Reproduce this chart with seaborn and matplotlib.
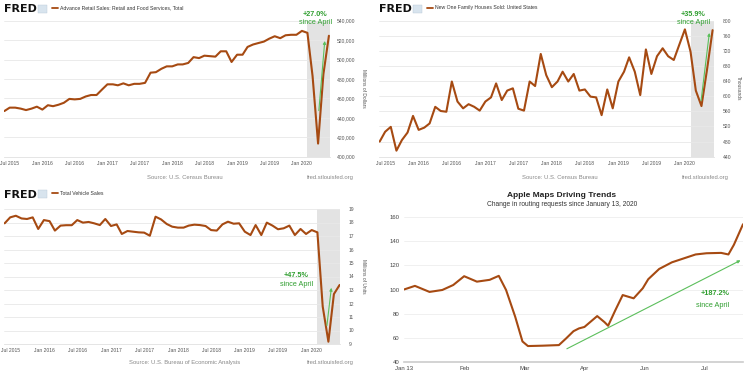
import numpy as np
import pandas as pd
import matplotlib
matplotlib.use('Agg')
import matplotlib.pyplot as plt
from matplotlib.patches import Rectangle
from matplotlib.lines import Line2D
import seaborn as sns

sns.set_theme(style='white')
plt.rcParams['font.family'] = ['Liberation Sans', 'DejaVu Sans']

# monthly series, Jun 2015 - Jun 2020
months = pd.date_range('2015-06-01', '2020-06-01', freq='MS')
retail = [447000, 450500, 450500, 449500, 448000, 449500, 451500, 448500, 453000, 452000,
          453500, 455500, 459500, 459000, 459500, 462000, 463500, 463500, 469000, 474500,
          474500, 473500, 475500, 473500, 475000, 475000, 476000, 486500, 487000, 490500,
          493000, 493000, 495000, 495000, 496500, 502500, 501500, 504000, 503500, 503000,
          508500, 508500, 497500, 505000, 505000, 513000, 515500, 517000, 518500, 521500,
          524000, 522000, 525000, 525500, 525500, 529500, 527500, 483000, 413500, 485000,
          524500]
homes = [480, 506, 519, 456, 484, 504, 548, 511, 517, 528,
         572, 561, 559, 639, 586, 568, 579, 572, 562, 586,
         597, 634, 590, 615, 621, 567, 562, 639, 627, 712,
         656, 624, 639, 665, 639, 659, 615, 618, 599, 597,
         550, 618, 568, 639, 665, 703, 665, 603, 724, 659,
         706, 727, 706, 696, 736, 777, 718, 615, 574, 669,
         775]
vehicles = [17.94, 18.38, 18.50, 18.30, 18.26, 18.38, 17.52, 18.18, 18.10, 17.40,
            17.77, 17.80, 17.80, 18.18, 17.99, 18.04, 17.94, 17.81, 18.26, 17.74,
            17.86, 17.15, 17.37, 17.32, 17.27, 17.25, 17.02, 18.43, 18.23, 17.89,
            17.69, 17.62, 17.62, 17.77, 17.84, 17.81, 17.74, 17.44, 17.40, 17.86,
            18.06, 17.91, 17.94, 17.32, 17.07, 17.81, 17.07, 17.99, 17.77, 17.50,
            17.57, 17.77, 17.07, 17.52, 17.15, 17.44, 17.27, 11.77, 9.17, 12.70,
            13.37]
tick_dates = pd.to_datetime(['2015-07-01', '2016-01-01', '2016-07-01', '2017-01-01', '2017-07-01',
                             '2018-01-01', '2018-07-01', '2019-01-01', '2019-07-01', '2020-01-01'])
tick_labels = ['Jul 2015', 'Jan 2016', 'Jul 2016', 'Jan 2017', 'Jul 2017',
               'Jan 2018', 'Jul 2018', 'Jan 2019', 'Jul 2019', 'Jan 2020']

# apple maps driving index (days since Jan 13)
apple_day = [0, 6, 14, 21, 27, 33, 40, 47, 52, 56, 61, 65, 68, 76, 85, 89, 93, 96, 99,
             106, 110, 112, 116, 120, 126, 131, 134, 140, 147, 153, 160, 166, 174, 178, 181, 186]
apple_val = [100, 103, 98, 99.6, 103.7, 111, 106.5, 108, 111.3, 99.6, 77.5, 57, 53.2, 53.5, 54,
             59.6, 65.5, 67.8, 69, 78, 73, 70, 83, 95.4, 92.7, 101, 108.5, 117, 122.5, 125.5,
             129, 130, 130.3, 129, 137, 154]
apple_ticks = [0, 33, 66, 99, 132, 165]
apple_labels = ['Jan 13', 'Feb', 'Mar', 'Apr', 'Jun', 'Jul']

BROWN = '#a64a12'
GREEN_LINE = '#5cbf5c'
GREEN_TXT = '#2f9e2f'
W, H = 750, 375

def box(x0, y0, x1, y1):
    return [x0 / W, 1 - y1 / H, (x1 - x0) / W, (y1 - y0) / H]

fig = plt.figure(figsize=(7.5, 3.75), dpi=100)


def fred_panel(rect, values, ylim, yticks, yfmt, ylabel, label_x, title, source, ox, oy, pad):
    ax = fig.add_axes(box(*rect))
    ax.axvspan(pd.Timestamp('2020-02-01'), pd.Timestamp('2020-06-06'), color='#e3e3e3', lw=0, zorder=0)
    sns.lineplot(x=months, y=values, ax=ax, color=BROWN, linewidth=1.5, zorder=3)
    ax.set_xlim(pd.Timestamp('2015-05-30'), pd.Timestamp('2020-06-06'))
    ax.set_ylim(*ylim)
    ax.set_yticks(yticks)
    ax.set_yticklabels([yfmt(v) for v in yticks])
    ax.yaxis.tick_right()
    ax.set_xticks(tick_dates)
    ax.set_xticklabels(tick_labels)
    ax.tick_params(axis='x', labelsize=3.6, colors='#555555', length=0, pad=3)
    ax.tick_params(axis='y', labelsize=3.6, colors='#555555', length=0, pad=pad)
    ax.grid(axis='y', color='#e8e8e8', lw=0.6)
    ax.set_xlabel('')
    ax.set_ylabel('')
    for s in ax.spines.values():
        s.set_visible(False)
    ax.spines['bottom'].set_visible(True)
    ax.spines['bottom'].set_color('#e0e0e0')
    ax.spines['bottom'].set_linewidth(0.6)
    # header
    fig.text(ox + 4 / W, 1 - (oy + 9.5) / H, 'FRED', fontsize=8, fontweight='heavy',
             family=['DejaVu Sans'], color='#111111', va='center', ha='left')
    fig.patches.append(Rectangle(((ox * W + 38) / W, 1 - (oy + 13) / H), 9 / W, 8 / H,
                                 transform=fig.transFigure, facecolor='#d8e4ee', edgecolor='#b8c8d8', lw=0.3))
    fig.lines.append(Line2D([(ox * W + 52) / W, (ox * W + 58) / W], [1 - (oy + 8) / H] * 2,
                            transform=fig.transFigure, color=BROWN, lw=1.3))
    fig.text(ox + 60 / W, 1 - (oy + 8) / H, title, fontsize=3.7, color='#333333', va='center', ha='left')
    fig.text(label_x / W, 1 - (rect[1] + rect[3]) / 2 / H, ylabel, rotation=270,
             fontsize=3.5, color='#555555', va='center', ha='center')
    fig.text(ox + 185 / W, 1 - (oy + 177.5) / H, source, fontsize=4.2, color='#888888', ha='center', va='center')
    fig.text(ox + 354 / W, 1 - (oy + 177.5) / H, 'fred.stlouisfed.org', fontsize=4.2, color='#888888',
             ha='right', va='center')
    return ax


ax1 = fred_panel((4, 20.7, 329.8, 156.7), retail, (400000, 540000), list(range(400000, 540001, 20000)),
                 lambda v: f'{v:,.0f}', 'Millions of Dollars', 363,
                 'Advance Retail Sales: Retail and Food Services, Total', 'Source: U.S. Census Bureau', 0, 0, 5)
ax1.annotate('', xy=(pd.Timestamp('2020-05-10'), 522000), xytext=(pd.Timestamp('2020-04-04'), 444600),
             arrowprops=dict(arrowstyle='-|>', color=GREEN_LINE, lw=0.8, mutation_scale=4), zorder=4)
ax1.text(pd.Timestamp('2020-03-16'), 546500, '+27.0%', fontsize=5.2, fontweight='bold', color=GREEN_TXT,
         ha='center', va='center', clip_on=False)
ax1.text(pd.Timestamp('2020-03-16'), 538000, 'since April', fontsize=5.2, color=GREEN_TXT,
         ha='center', va='center', clip_on=False)

ax2 = fred_panel((379.3, 20.7, 713.5, 156.7), homes, (440, 800), list(range(440, 801, 40)),
                 lambda v: f'{v}', 'Thousands', 738, 'New One Family Houses Sold: United States',
                 'Source: U.S. Census Bureau', 375 / W, 0, 7)
ax2.annotate('', xy=(pd.Timestamp('2020-05-16'), 775), xytext=(pd.Timestamp('2020-03-28'), 581),
             arrowprops=dict(arrowstyle='-|>', color=GREEN_LINE, lw=0.8, mutation_scale=4), zorder=4)
ax2.text(pd.Timestamp('2020-02-16'), 816, '+35.9%', fontsize=5.2, fontweight='bold', color=GREEN_TXT,
         ha='center', va='center', clip_on=False)
ax2.text(pd.Timestamp('2020-02-18'), 796, 'since April', fontsize=5.2, color=GREEN_TXT,
         ha='center', va='center', clip_on=False)

ax3 = fred_panel((4.3, 209, 340.5, 344), vehicles, (9, 19), list(range(9, 20)),
                 lambda v: f'{v}', 'Millions of Units', 363, 'Total Vehicle Sales',
                 'Source: U.S. Bureau of Economic Analysis', 0, 185, 6)
ax3.annotate('', xy=(pd.Timestamp('2020-04-19'), 13.37), xytext=(pd.Timestamp('2020-03-22'), 10.16),
             arrowprops=dict(arrowstyle='-|>', color=GREEN_LINE, lw=0.8, mutation_scale=4), zorder=4)
ax3.text(pd.Timestamp('2019-10-10'), 14.06, '+47.5%', fontsize=5.2, fontweight='bold', color=GREEN_TXT,
         ha='center', va='center')
ax3.text(pd.Timestamp('2019-10-10'), 13.44, 'since April', fontsize=5.2, color=GREEN_TXT,
         ha='center', va='center')

# apple maps panel
ax4 = fig.add_axes(box(404, 217, 743, 362))
sns.lineplot(x=apple_day, y=apple_val, ax=ax4, color=BROWN, linewidth=1.5, zorder=3)
ax4.set_xlim(0, 186)
ax4.set_ylim(40, 160)
ax4.set_yticks(range(40, 161, 20))
ax4.set_xticks(apple_ticks)
ax4.set_xticklabels(apple_labels)
ax4.tick_params(axis='both', labelsize=4.3, colors='#444444', length=0)
ax4.tick_params(axis='x', pad=3)
ax4.tick_params(axis='y', pad=3)
ax4.grid(axis='y', color='#eeeeee', lw=0.6)
for s in ax4.spines.values():
    s.set_visible(False)
ax4.spines['bottom'].set_visible(True)
ax4.spines['bottom'].set_color('#cccccc')
ax4.spines['bottom'].set_linewidth(1.2)
ax4.annotate('', xy=(186, 125.2), xytext=(88, 49.9),
             arrowprops=dict(arrowstyle='-|>', color=GREEN_LINE, lw=0.8, mutation_scale=4), zorder=4)
ax4.text(170.5, 97, '+187.2%', fontsize=5.2, fontweight='bold', color=GREEN_TXT, ha='center', va='center')
ax4.text(169.5, 87, 'since April', fontsize=5.2, color=GREEN_TXT, ha='center', va='center')
fig.text(562 / W, 1 - 196 / H, 'Apple Maps Driving Trends', fontsize=6, fontweight='bold',
         color='#222222', ha='center', va='center')
fig.text(562 / W, 1 - 204.5 / H, 'Change in routing requests since January 13, 2020', fontsize=4.8,
         color='#333333', ha='center', va='center')

fig.savefig('out.png', dpi=100, facecolor='white')
